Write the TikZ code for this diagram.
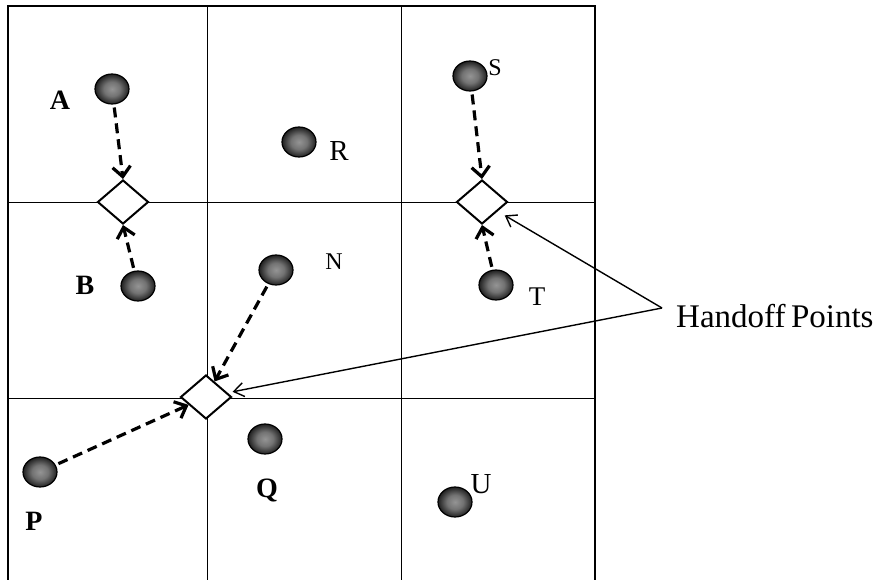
\documentclass[tikz,border=0pt]{standalone}
\usepackage{fontspec}
\setmainfont{Liberation Serif}
\usetikzlibrary{arrows.meta,shapes.geometric}
\pgfdeclareradialshading{ballshade}{\pgfpoint{0bp}{0bp}}{color(0bp)=(black!42); color(12bp)=(black!55); color(24bp)=(black!85); color(30bp)=(black); color(50bp)=(black)}
\tikzset{
  mob/.style={ellipse, minimum width=34pt, minimum height=30pt, inner sep=0pt, shading=ballshade, draw=black, line width=1.2pt},
  hp/.style={diamond, draw, line width=2pt, minimum width=51pt, minimum height=44pt, inner sep=0pt, fill=white},
  move/.style={line width=3.2pt, dash pattern=on 10pt off 6pt, -{Straight Barb[length=10pt,width=18pt]}, shorten <=3pt},
  callout/.style={line width=1.4pt, -{Straight Barb[length=10pt,width=14pt]}},
  lab/.style={inner sep=0pt, anchor=base, font=\fontsize{27}{30}\selectfont},
  blab/.style={inner sep=0pt, anchor=base, font=\fontsize{28}{30}\selectfont\bfseries},
  outerline/.style={line width=2.2pt},
  gridline/.style={line width=0.9pt}
}
\begin{document}
\begin{tikzpicture}[x=1pt,y=-1pt]
\useasboundingbox (0,0) rectangle (879,580);
% grid
\draw[gridline] (207,6) -- (207,580);
\draw[gridline] (401,6) -- (401,580);
\draw[gridline] (8,202) -- (595,202);
\draw[gridline] (8,398) -- (595,398);
\draw[outerline] (8,580) -- (8,6) -- (595,6) -- (595,580);
% handoff points
\node[hp] (D1) at (123,202) {};
\node[hp] (D2) at (482,202) {};
\node[hp] (D3) at (206,397) {};
% mobiles
\node[mob] (A) at (112,89) {};
\node[mob] (B) at (138,286) {};
\node[mob] (R) at (299,142) {};
\node[mob] (S) at (470,76) {};
\node[mob] (N) at (276,270) {};
\node[mob] (T) at (496,285) {};
\node[mob] (P) at (40,472) {};
\node[mob] (Q) at (265,439) {};
\node[mob] (U) at (455,502) {};
% labels
\node[blab] (lA) at (60,110) {A};
\node[blab] (lB) at (85,295) {B};
\node[lab, font=\fontsize{29}{30}\selectfont] (lR) at (339,161) {R};
\node[lab, font=\fontsize{24}{26}\selectfont] (lS) at (495,76) {S};
\node[lab, font=\fontsize{24}{26}\selectfont] (lN) at (334,270) {N};
\node[lab] (lT) at (537,306) {T};
\node[blab] (lP) at (34,530) {P};
\node[blab] (lQ) at (267,497) {Q};
\node[lab, font=\fontsize{29}{30}\selectfont] (lU) at (481,493) {U};
% movement arrows
\draw[move] (A) -- (D1.north);
\draw[move] (B) -- (D1.south);
\draw[move] (S) -- (D2.north);
\draw[move] (T) -- (D2.south);
\draw[move] (N) -- (D3);
\draw[move] (P) -- (D3);
% callout
\node[inner sep=0pt, anchor=base west, font=\fontsize{33}{36}\selectfont] (hlab) at (676,327) {Handoff\,Points};
\coordinate (apex) at (662,308);
\draw[callout, shorten >=8pt] (apex) -- (D2);
\draw[callout, shorten >=5pt] (apex) -- (D3);
\end{tikzpicture}
\end{document}
